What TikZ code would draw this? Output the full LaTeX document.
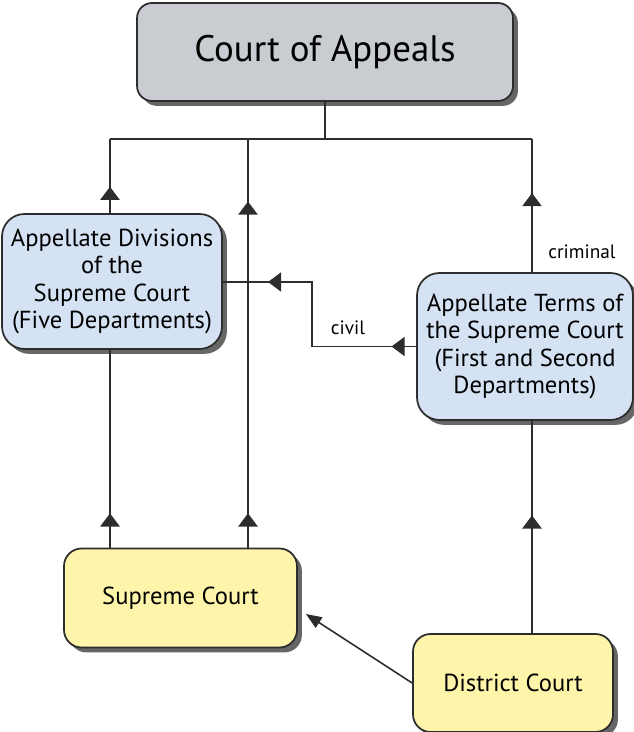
\documentclass[tikz,border=0pt]{standalone}
\usepackage{fontspec}
\setmainfont{PT Sans}
\usetikzlibrary{arrows.meta,shadows,decorations.markings}
\definecolor{appealgray}{RGB}{201,204,208}
\definecolor{termblue}{RGB}{212,226,243}
\definecolor{trialyellow}{RGB}{255,245,170}
\definecolor{lineblack}{RGB}{45,45,45}
\tikzset{
  court/.style={draw=lineblack,line width=1pt,align=center,inner sep=0pt,
    drop shadow={shadow xshift=2.8pt,shadow yshift=-2.8pt,fill=black!60,opacity=1}},
  upper/.style={court,fill=termblue,rounded corners=.45cm,
    font=\fontsize{14}{15.5}\selectfont},
  lower/.style={court,fill=trialyellow,rounded corners=.35cm,
    font=\fontsize{14}{15.5}\selectfont},
  tipat/.style={postaction={decorate,decoration={markings,
    mark=at position #1 with {\arrow{Triangle[width=11pt,length=7.5pt]}}}}},
  lbl/.style={font=\fontsize{11}{12}\selectfont}
}
\begin{document}
\begin{tikzpicture}[x=0.02cm,y=-0.02cm,line width=.9pt,draw=lineblack]
\useasboundingbox (0,0) rectangle (634,732);
\node[court,fill=appealgray,rounded corners=.3cm,minimum width=7.52cm,minimum height=1.96cm,
  font=\fontsize{21}{24}\selectfont] (appeals) at (325,52) {Court of Appeals};
\node[upper,minimum width=4.4cm,minimum height=2.7cm] (divisions) at (112,281.5)
  {Appellate Divisions\\of the\\Supreme Court\\(Five Departments)};
\node[upper,minimum width=4.32cm,minimum height=2.94cm] (terms) at (525,346.5)
  {Appellate Terms of\\the Supreme Court\\(First and Second\\Departments)};
\node[lower,minimum width=4.66cm,minimum height=1.98cm] (supreme) at (180.5,598) {Supreme Court};
\node[lower,minimum width=4cm,minimum height=1.96cm] (district) at (513,683) {District Court};
\coordinate (top) at (325,139);
\coordinate (tl) at (110,139);
\coordinate (tm) at (248,139);
\coordinate (tr) at (532,139);
\coordinate (civ) at (312,282);
% routes up to the Court of Appeals
\draw (appeals) -- (top);
\draw (tl) -- (tr);
\draw[tipat=15pt] (tl |- divisions.north) -- (tl);
\draw[tipat=19.5pt,tipat=197pt] (tm |- supreme.north) -- (tm);
\draw[tipat=45pt] (tr |- terms.north) -- (tr);
\node[lbl] (crim) at (582,252) {criminal};
% routes up to the appellate courts
\draw[tipat=19.5pt] (tl |- supreme.north) -- (tl |- divisions.south);
\draw[tipat=67pt] (tr |- district.north) -- (tr |- terms.south);
\draw[tipat=14pt,tipat=121pt] (terms.west) -| (civ) -- (civ -| divisions.east);
\node[lbl] (civil) at (348,328) {civil};
\draw[-{Triangle[width=7pt,length=9pt]}] (district.west) -- ([shift={(8,16)}]supreme.east);
\end{tikzpicture}
\end{document}
